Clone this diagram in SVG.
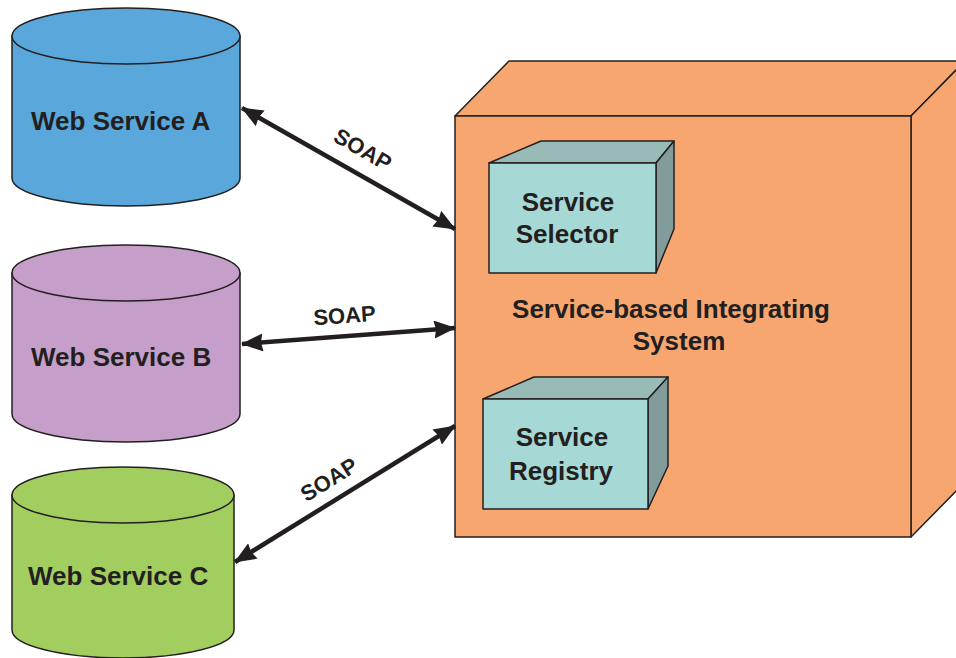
<svg xmlns="http://www.w3.org/2000/svg" width="956" height="658" viewBox="0 0 956 658">
<defs>
<style>
.t{font-family:"Liberation Sans",Arial,sans-serif;font-weight:bold;fill:#231F20}
.lbl{font-size:26px}
.soap{font-size:22px}
.ol{stroke:#231F20;stroke-width:1.5;stroke-linejoin:round}
.conn{stroke:#231F20;stroke-width:4.5;fill:none}
</style>
<marker id="ah" viewBox="0 0 22 18" refX="21" refY="9" markerWidth="22" markerHeight="18" markerUnits="userSpaceOnUse" orient="auto-start-reverse">
<path d="M0,0 L22,9 L0,18 L2,9 Z" fill="#231F20"/>
</marker>
</defs>
<rect width="956" height="658" fill="#FFFFFF"/>

<g id="webA">
<path class="ol" d="M12,36 L12,178 A114,28 0 0 0 240,178 L240,36 Z" fill="#5AA7DB"/>
<ellipse class="ol" cx="126" cy="36" rx="114" ry="28" fill="#5AA7DB"/>
<text class="t lbl" x="31" y="130">Web Service A</text>
</g>

<g id="webB">
<path class="ol" d="M12,273 L12,414 A114,28 0 0 0 240,414 L240,273 Z" fill="#C59FC9"/>
<ellipse class="ol" cx="126" cy="273" rx="114" ry="28" fill="#C59FC9"/>
<text class="t lbl" x="31" y="366">Web Service B</text>
</g>

<g id="webC">
<path class="ol" d="M12,495 L12,630 A111,28 0 0 0 234,630 L234,495 Z" fill="#A2CD5F"/>
<ellipse class="ol" cx="123" cy="495" rx="111" ry="28" fill="#A2CD5F"/>
<text class="t lbl" x="28" y="585">Web Service C</text>
</g>

<g id="system">
<polygon class="ol" points="455,116 509,61 965,61 911,116" fill="#F8A66F"/>
<polygon class="ol" points="911,116 965,61 965,482 911,537" fill="#F8A66F"/>
<rect class="ol" x="455" y="116" width="456" height="421" fill="#F8A66F"/>
<text class="t lbl" text-anchor="middle"><tspan x="671" y="318">Service-based Integrating</tspan><tspan x="679" y="350">System</tspan></text>
</g>

<g id="selector">
<polygon class="ol" points="489,163 541,141 674,141 656,163" fill="#98BBB8"/>
<polygon class="ol" points="656,163 674,141 674,229 656,273" fill="#829C9B"/>
<rect class="ol" x="489" y="163" width="167" height="110" fill="#A6D9D5"/>
<text class="t lbl" text-anchor="middle"><tspan x="568" y="211">Service</tspan><tspan x="567" y="243">Selector</tspan></text>
</g>

<g id="registry">
<polygon class="ol" points="483,399 534,377 668,377 648,399" fill="#98BBB8"/>
<polygon class="ol" points="648,399 668,377 668,466 648,509" fill="#829C9B"/>
<rect class="ol" x="483" y="399" width="165" height="110" fill="#A6D9D5"/>
<text class="t lbl" text-anchor="middle"><tspan x="562" y="446">Service</tspan><tspan x="561" y="480">Registry</tspan></text>
</g>

<g id="connectors">
<line class="conn" x1="242" y1="108" x2="455" y2="229" marker-start="url(#ah)" marker-end="url(#ah)"/>
<line class="conn" x1="242" y1="344" x2="455" y2="328" marker-start="url(#ah)" marker-end="url(#ah)"/>
<line class="conn" x1="455" y1="426" x2="235" y2="562" marker-start="url(#ah)" marker-end="url(#ah)"/>
<text class="t soap" text-anchor="middle" transform="translate(359,156) rotate(30)">SOAP</text>
<text class="t soap" text-anchor="middle" transform="translate(345,323) rotate(-4)">SOAP</text>
<text class="t soap" text-anchor="middle" transform="translate(333,486) rotate(-32)">SOAP</text>
</g>
</svg>
